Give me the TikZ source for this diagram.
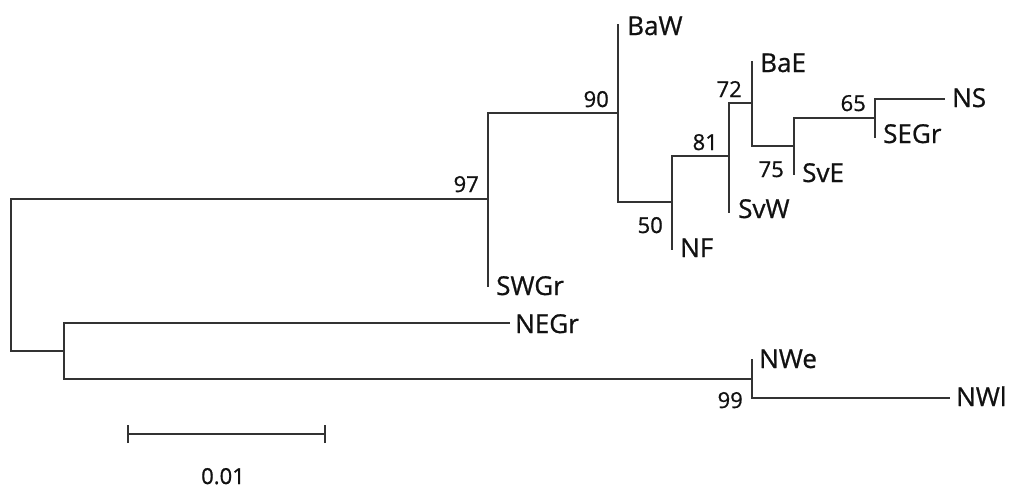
\documentclass[tikz,border=0pt]{standalone}
\usepackage{fontspec}
\setmainfont[FakeBold=0.8]{Open Sans}
\definecolor{branch}{HTML}{333333}
\definecolor{ink}{HTML}{111111}
\begin{document}
\begin{tikzpicture}[x=1pt,y=-1pt,
  br/.style={draw=branch,line width=1.5pt,line cap=rect},
  leaf/.style={anchor=base west,inner sep=0pt,text=ink,font=\fontsize{26}{28}\selectfont},
  boot/.style={anchor=base east,inner sep=0pt,text=ink,font=\fontsize{22}{24}\selectfont}]
\useasboundingbox (0,0) rectangle (1011,491);
% internal nodes
\coordinate (root) at (11,275);
\coordinate (n97) at (488,199);
\coordinate (n90) at (618,113);
\coordinate (n50) at (672,202);
\coordinate (n81) at (729,156);
\coordinate (n72) at (752,103);
\coordinate (n75) at (794,146);
\coordinate (n65) at (875,118);
\coordinate (nlow) at (64,351);
\coordinate (n99) at (752,379);
% leaves
\coordinate (BaW) at (618,25);
\coordinate (BaE) at (752,62);
\coordinate (NS) at (944,99);
\coordinate (SEGr) at (875,137);
\coordinate (SvE) at (794,174);
\coordinate (SvW) at (729,212);
\coordinate (NF) at (672,249);
\coordinate (SWGr) at (488,286);
\coordinate (NEGr) at (509,323);
\coordinate (NWe) at (752,360);
\coordinate (NWl) at (949,398);
% verticals
\draw[br] (root |- n97) -- (root |- nlow);
\draw[br] (n97 |- n90) -- (SWGr);
\draw[br] (BaW) -- (n90 |- n50);
\draw[br] (n50 |- n81) -- (NF);
\draw[br] (n81 |- n72) -- (SvW);
\draw[br] (BaE) -- (n72 |- n75);
\draw[br] (n75 |- n65) -- (SvE);
\draw[br] (n65 |- NS) -- (SEGr);
\draw[br] (nlow |- NEGr) -- (nlow |- n99);
\draw[br] (NWe) -- (n99 |- NWl);
% horizontals
\draw[br] (root |- n97) -- (n97);
\draw[br] (n97 |- n90) -- (n90);
\draw[br] (n90 |- n50) -- (n50);
\draw[br] (n50 |- n81) -- (n81);
\draw[br] (n81 |- n72) -- (n72);
\draw[br] (n72 |- n75) -- (n75);
\draw[br] (n75 |- n65) -- (n65);
\draw[br] (n65 |- NS) -- (NS);
\draw[br] (root |- nlow) -- (nlow);
\draw[br] (nlow |- NEGr) -- (NEGr);
\draw[br] (nlow |- n99) -- (n99);
\draw[br] (n99 |- NWl) -- (NWl);
% leaf labels
\node[leaf] (lBaW) at (627,35) {BaW};
\node[leaf] (lBaE) at (760,72) {BaE};
\node[leaf] (lNS) at (952,107) {NS};
\node[leaf] (lSEGr) at (883,143) {SEGr};
\node[leaf] (lSvE) at (802,182) {SvE};
\node[leaf] (lSvW) at (738,218) {SvW};
\node[leaf] (lNF) at (680,257) {NF};
\node[leaf] (lSWGr) at (496,295) {SWGr};
\node[leaf] (lNEGr) at (515,333) {NEGr};
\node[leaf] (lNWe) at (759,368) {NWe};
\node[leaf] (lNWl) at (956,406) {NWl};
% bootstrap values
\node[boot] (b97) at (479,192) {97};
\node[boot] (b90) at (609,107) {90};
\node[boot] (b81) at (718,150) {81};
\node[boot] (b72) at (742,97) {72};
\node[boot] (b65) at (866,111) {65};
\node[boot] (b50) at (663,233) {50};
\node[boot] (b75) at (784,177) {75};
\node[boot] (b99) at (743,408) {99};
% scale bar
\coordinate (sbl) at (128,434);
\coordinate (sbr) at (325,434);
\draw[br,line cap=butt] (sbl) -- (sbr);
\draw[br,line cap=butt] ([yshift=-9]sbl) -- ([yshift=9]sbl);
\draw[br,line cap=butt] ([yshift=-9]sbr) -- ([yshift=9]sbr);
\node[anchor=base,inner sep=0pt,text=ink,font=\fontsize{22}{24}\selectfont] (sblab) at (223,484) {0.01};
\end{tikzpicture}
\end{document}
